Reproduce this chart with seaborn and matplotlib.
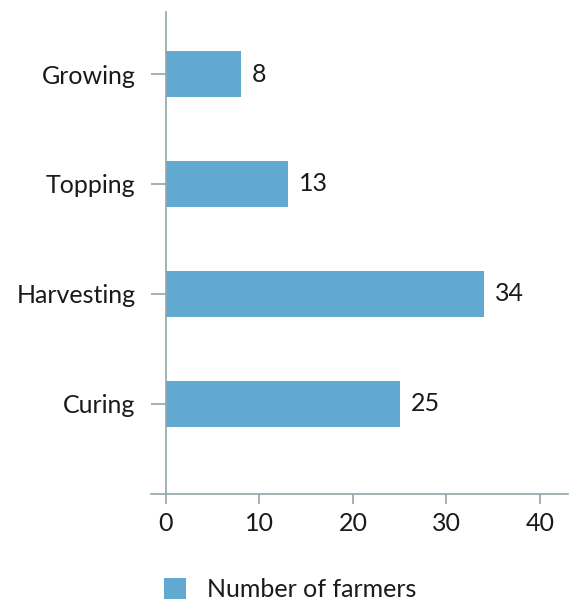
import matplotlib
matplotlib.use("Agg")
import matplotlib.pyplot as plt
from matplotlib.patches import Patch
import seaborn as sns
import pandas as pd

stages = ["Growing", "Topping", "Harvesting", "Curing"]
farmers = [8, 13, 34, 25]
x_ticks = [0, 10, 20, 30, 40]
series_name = "Number of farmers"

bar_color = "#62a9d2"
axis_color = "#8fa7ab"
text_color = "#1a1a1a"

sns.set_theme(style="white")
plt.rcParams["font.family"] = ["Lato", "DejaVu Sans"]

df = pd.DataFrame({"stage": stages, "farmers": farmers})

fig = plt.figure(figsize=(5.69, 6.04), dpi=100)
ax = fig.add_axes([151 / 569, 1 - 494 / 604, (568 - 151) / 569, (494 - 12) / 604])

sns.barplot(data=df, x="farmers", y="stage", orient="h", color=bar_color,
            saturation=1, width=0.42, linewidth=0, ax=ax)

ax.set_xlim(-1.6, 43)
ax.set_ylim(3.82, -0.564)
ax.set_xticks(x_ticks)
ax.set_xlabel("")
ax.set_ylabel("")

for s in ["top", "right"]:
    ax.spines[s].set_visible(False)
ax.spines["left"].set_position(("data", 0))
for s in ["left", "bottom"]:
    ax.spines[s].set_color(axis_color)
    ax.spines[s].set_linewidth(1.2)

fs = 18
ax.tick_params(axis="y", length=10.8, width=1.2, color=axis_color, pad=11,
               labelsize=fs, labelcolor=text_color, left=True)
ax.tick_params(axis="x", length=7.2, width=1.2, color=axis_color, pad=6,
               labelsize=fs, labelcolor=text_color, bottom=True)

for c in ax.containers:
    ax.bar_label(c, labels=[str(v) for v in farmers], padding=8,
                 fontsize=fs, color=text_color)

fig.legend(handles=[Patch(facecolor=bar_color, edgecolor="none", label=series_name)],
           loc="lower left", bbox_to_anchor=(164 / 569, 3 / 604), frameon=False,
           borderpad=0, borderaxespad=0,
           fontsize=fs, handlelength=0.88, handleheight=0.88, handletextpad=0.84,
           labelcolor=text_color)

fig.savefig("out.png", dpi=100)
